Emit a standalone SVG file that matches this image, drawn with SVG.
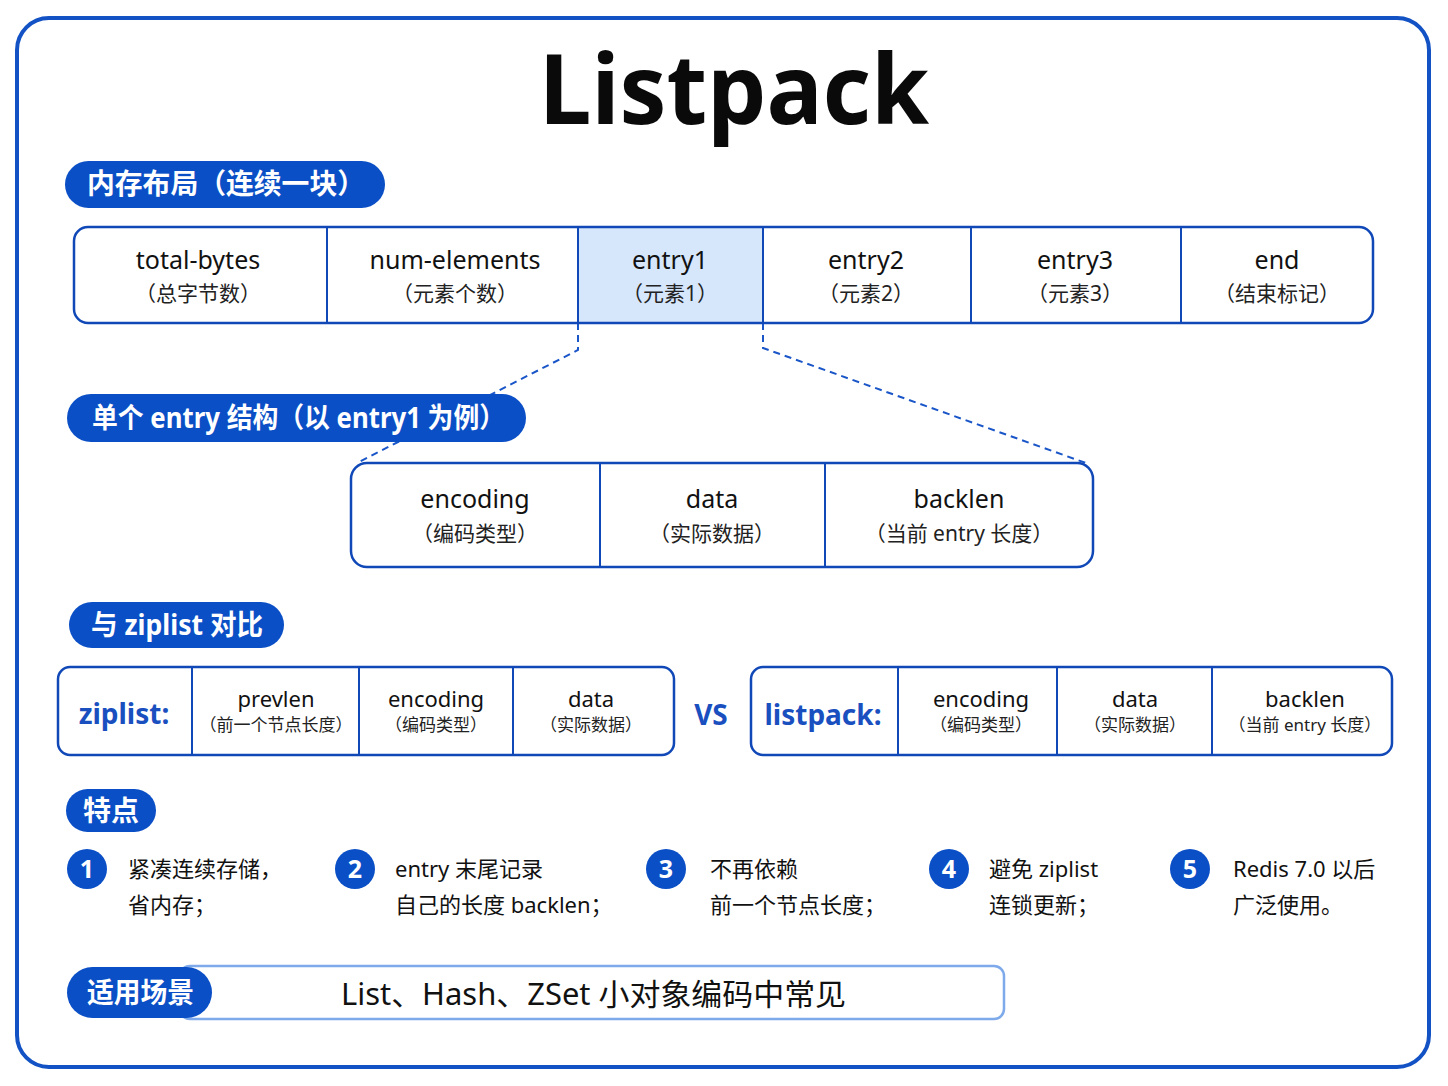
<svg xmlns="http://www.w3.org/2000/svg" width="1448" height="1086" viewBox="0 0 1448 1086">
<style>
text{font-family:"Noto Sans","Noto Sans CJK SC",sans-serif;}
.frame{fill:#ffffff;stroke:#1252c4;stroke-width:4;}
.pill{fill:#0b4fc6;}
.pillt{fill:#ffffff;font-weight:bold;font-size:28px;}
.box{fill:#ffffff;stroke:#1048b8;stroke-width:2.5;}
.div{stroke:#1048b8;stroke-width:2;}
.t1{fill:#111111;font-size:25px;text-anchor:middle;}
.t2{fill:#222222;font-size:21px;text-anchor:middle;}
.s1{fill:#111111;font-size:22px;text-anchor:middle;}
.s2{fill:#222222;font-size:17px;text-anchor:middle;}
.lab{fill:#1a4fc0;font-size:28px;font-weight:bold;text-anchor:middle;}
.dash{fill:none;stroke:#1a56c8;stroke-width:2;stroke-dasharray:7 5;}
.num{fill:#0b4fc6;}
.numt{fill:#ffffff;font-size:25px;font-weight:bold;text-anchor:middle;}
.ft{fill:#111111;font-size:22px;}
</style>
<rect x="17" y="18" width="1412" height="1049" rx="32" class="frame"/>
<text x="734" y="124" text-anchor="middle" font-size="96" font-weight="bold" fill="#0a0a0a" textLength="390" lengthAdjust="spacingAndGlyphs">Listpack</text>

<g id="connectors">
<path class="dash" d="M578 323 L578 350 L357 463"/>
<path class="dash" d="M763 323 L763 348 L1086 463"/>
</g>

<g id="pill-layout">
<rect x="65" y="161" width="320" height="47" rx="23.5" class="pill"/>
<text x="87" y="194" class="pillt" textLength="278" lengthAdjust="spacingAndGlyphs">内存布局（连续一块）</text>
</g>

<g id="row-layout">
<rect x="578" y="228" width="185" height="95" fill="#d6e6fb"/>
<rect x="74" y="227" width="1299" height="96" rx="14" fill="none" stroke="#1048b8" stroke-width="2.5"/>
<line class="div" x1="327" y1="227" x2="327" y2="323"/>
<line class="div" x1="578" y1="227" x2="578" y2="323"/>
<line class="div" x1="763" y1="227" x2="763" y2="323"/>
<line class="div" x1="971" y1="227" x2="971" y2="323"/>
<line class="div" x1="1181" y1="227" x2="1181" y2="323"/>
</g>
<g id="n-total"><text x="198" y="269" class="t1">total-bytes</text><text x="198" y="301" class="t2">（总字节数）</text></g>
<g id="n-num"><text x="455" y="269" class="t1">num-elements</text><text x="455" y="301" class="t2">（元素个数）</text></g>
<g id="n-entry1"><text x="670" y="269" class="t1">entry1</text><text x="670" y="301" class="t2">（元素1）</text></g>
<g id="n-entry2"><text x="866" y="269" class="t1">entry2</text><text x="866" y="301" class="t2">（元素2）</text></g>
<g id="n-entry3"><text x="1075" y="269" class="t1">entry3</text><text x="1075" y="301" class="t2">（元素3）</text></g>
<g id="n-end"><text x="1277" y="269" class="t1">end</text><text x="1277" y="301" class="t2">（结束标记）</text></g>

<g id="pill-entry">
<rect x="67" y="394" width="459" height="48" rx="24" class="pill"/>
<text x="92" y="428" class="pillt" textLength="413" lengthAdjust="spacingAndGlyphs">单个 entry 结构（以 entry1 为例）</text>
</g>

<g id="entry-struct">
<rect x="351" y="463" width="742" height="104" rx="16" class="box"/>
<line class="div" x1="600" y1="463" x2="600" y2="567"/>
<line class="div" x1="825" y1="463" x2="825" y2="567"/>
</g>
<g id="n-encoding"><text x="475" y="508" class="t1">encoding</text><text x="475" y="541" class="t2">（编码类型）</text></g>
<g id="n-data"><text x="712" y="508" class="t1">data</text><text x="712" y="541" class="t2">（实际数据）</text></g>
<g id="n-backlen"><text x="959" y="508" class="t1">backlen</text><text x="959" y="541" class="t2">（当前 entry 长度）</text></g>

<g id="pill-compare">
<rect x="69" y="602" width="215" height="46" rx="23" class="pill"/>
<text x="91" y="635" class="pillt" textLength="172" lengthAdjust="spacingAndGlyphs">与 ziplist 对比</text>
</g>

<g id="ziplist">
<rect x="58" y="667" width="616" height="88" rx="12" class="box"/>
<line class="div" x1="192" y1="667" x2="192" y2="755"/>
<line class="div" x1="359" y1="667" x2="359" y2="755"/>
<line class="div" x1="513" y1="667" x2="513" y2="755"/>
<text x="124" y="724" class="lab">ziplist:</text>
<text x="276" y="707" class="s1">prevlen</text><text x="276" y="731" class="s2">（前一个节点长度）</text>
<text x="436" y="707" class="s1">encoding</text><text x="436" y="731" class="s2">（编码类型）</text>
<text x="591" y="707" class="s1">data</text><text x="591" y="731" class="s2">（实际数据）</text>
</g>
<text x="711" y="725" class="lab" font-size="30">VS</text>
<g id="listpack">
<rect x="751" y="667" width="641" height="88" rx="12" class="box"/>
<line class="div" x1="898" y1="667" x2="898" y2="755"/>
<line class="div" x1="1057" y1="667" x2="1057" y2="755"/>
<line class="div" x1="1212" y1="667" x2="1212" y2="755"/>
<text x="823" y="725" class="lab">listpack:</text>
<text x="981" y="707" class="s1">encoding</text><text x="981" y="731" class="s2">（编码类型）</text>
<text x="1135" y="707" class="s1">data</text><text x="1135" y="731" class="s2">（实际数据）</text>
<text x="1305" y="707" class="s1">backlen</text><text x="1305" y="731" class="s2">（当前 entry 长度）</text>
</g>

<g id="pill-feature">
<rect x="66" y="789" width="90" height="43" rx="21.5" class="pill"/>
<text x="83" y="821" class="pillt" font-size="27">特点</text>
</g>
<g id="f1"><circle cx="87" cy="869" r="20" class="num"/><text x="87" y="878" class="numt">1</text>
<text x="128" y="877" class="ft">紧凑连续存储，</text><text x="128" y="913" class="ft">省内存；</text></g>
<g id="f2"><circle cx="355" cy="869" r="20" class="num"/><text x="355" y="878" class="numt">2</text>
<text x="395" y="877" class="ft">entry 末尾记录</text><text x="395" y="913" class="ft">自己的长度 backlen；</text></g>
<g id="f3"><circle cx="666" cy="869" r="20" class="num"/><text x="666" y="878" class="numt">3</text>
<text x="710" y="877" class="ft">不再依赖</text><text x="710" y="913" class="ft">前一个节点长度；</text></g>
<g id="f4"><circle cx="949" cy="869" r="20" class="num"/><text x="949" y="878" class="numt">4</text>
<text x="989" y="877" class="ft">避免 ziplist</text><text x="989" y="913" class="ft">连锁更新；</text></g>
<g id="f5"><circle cx="1190" cy="869" r="20" class="num"/><text x="1190" y="878" class="numt">5</text>
<text x="1233" y="877" class="ft">Redis 7.0 以后</text><text x="1233" y="913" class="ft">广泛使用。</text></g>

<g id="scene">
<rect x="180" y="966" width="824" height="53" rx="10" fill="#ffffff" stroke="#7ea9ea" stroke-width="2.5"/>
<rect x="67" y="967" width="145" height="51" rx="25.5" class="pill"/>
<text x="87" y="1003" class="pillt" font-size="27" textLength="107" lengthAdjust="spacingAndGlyphs">适用场景</text>
<text x="341" y="1005" fill="#111111" font-size="30" textLength="505" lengthAdjust="spacingAndGlyphs">List、Hash、ZSet 小对象编码中常见</text>
</g>
</svg>
